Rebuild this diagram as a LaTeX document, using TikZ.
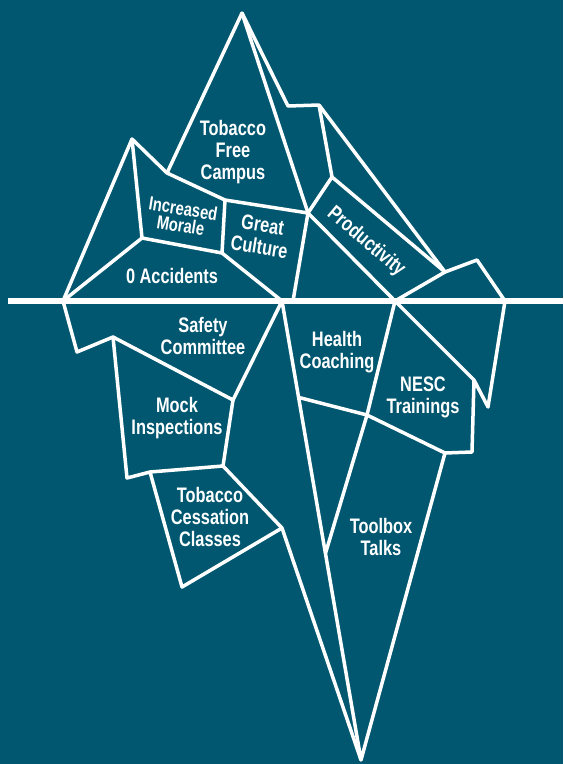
\documentclass[tikz,border=0pt]{standalone}
\usepackage{fontspec}
\newfontfamily\icefont{Liberation Sans}[FakeStretch=0.78]
\usetikzlibrary{calc}
\definecolor{seablue}{RGB}{0,87,111}
\tikzset{
  berg/.style={draw=white, line width=3.5pt, line join=round},
  water/.style={draw=white, line width=5.5pt},
  tag/.style={text=white, align=center, inner sep=0pt,
    font=\icefont\bfseries\fontsize{21}{22}\selectfont},
  smalltag/.style={tag, font=\icefont\bfseries\fontsize{19}{17}\selectfont}
}

\begin{document}
\begin{tikzpicture}[x=1pt,y=-1pt]
  \fill[seablue] (0,0) rectangle (563,764);
  \useasboundingbox (0,0) rectangle (563,764);
  % tip of the iceberg
  \coordinate (pk) at (242,13);
  \coordinate (lp) at (132,139);
  \coordinate (lw) at (63,301);
  \coordinate (n1) at (167,173);
  \coordinate (n2) at (225,200);
  \coordinate (n3) at (308,213);
  \coordinate (m1) at (142,238);
  \coordinate (m2) at (222,253);
  \coordinate (w1) at (282,301);
  \coordinate (wg) at (293,301);
  \coordinate (s1) at (288,106);
  \coordinate (s2) at (319,105);
  \coordinate (s3) at (332,177);
  \coordinate (s4) at (445,272);
  \coordinate (rp) at (477,260);
  \coordinate (w2) at (395,301);
  \coordinate (w3) at (505,301);
  % under the water
  \coordinate (u1) at (77,352);
  \coordinate (u2) at (113,337);
  \coordinate (u3) at (127,478);
  \coordinate (u4) at (150,472);
  \coordinate (u5) at (182,587);
  \coordinate (u6) at (282,528);
  \coordinate (sc) at (233,400);
  \coordinate (mi) at (223,466);
  \coordinate (tip) at (361,760);
  \coordinate (hc) at ($(w1)!0.21!(tip)$);
  \coordinate (h1) at (367,415);
  \coordinate (h2) at ($(w1)!0.55!(tip)$);
  \coordinate (nt) at (445,453);
  \coordinate (r1) at (472,452);
  \coordinate (r2) at (474,380);
  \coordinate (r3) at (488,407);

  \draw[berg] (lw) -- (lp) -- (n1) -- (n2) -- (n3) -- (wg);
  \draw[berg] (n1) -- (pk) -- (n3);
  \draw[berg] (lp) -- (m1) -- (m2) -- (n2);
  \draw[berg] (lw) -- (m1);
  \draw[berg] (m2) -- (w1);
  \draw[berg] (pk) -- (s1) -- (s2) -- (s4) -- (rp) -- (w3);
  \draw[berg] (s2) -- (s3) -- (s4) -- (w2) -- (n3) -- (s3);

  \draw[berg] (lw) -- (u1) -- (u2) -- (u3) -- (u4) -- (u5) -- (u6) -- (tip);
  \draw[berg] (u2) -- (sc) -- (w1) -- (tip) -- (nt) -- (r1) -- (r2) -- (r3) -- (w3);
  \draw[berg] (sc) -- (mi) -- (u4);
  \draw[berg] (mi) -- (u6);
  \draw[berg] (w2) -- (h1) -- (h2);
  \draw[berg] (hc) -- (h1) -- (nt);
  \draw[berg] (w2) -- (r2);

  \draw[water] (8,301) -- (563,301);

  \node[tag] (tfc) at (233,152) {Tobacco\\Free\\Campus};
  \node[smalltag, rotate=-9] (morale) at (182,217) {Increased\\Morale};
  \node[tag, rotate=-9] (culture) at (261,236) {Great\\Culture};
  \node[tag] (accidents) at (172,276) {0 Accidents};
  \node[tag, rotate=-40] (prod) at (366,242) {Productivity};
  \node[tag] (safety) at (203,336) {Safety\\Committee};
  \node[tag] (mock) at (177,418) {Mock\\Inspections};
  \node[tag] (cessation) at (210,517) {Tobacco\\Cessation\\Classes};
  \node[tag] (health) at (337,352) {Health\\Coaching};
  \node[tag] (nesc) at (423,397) {NESC\\Trainings};
  \node[tag] (toolbox) at (381,537) {Toolbox\\Talks};
\end{tikzpicture}
\end{document}
